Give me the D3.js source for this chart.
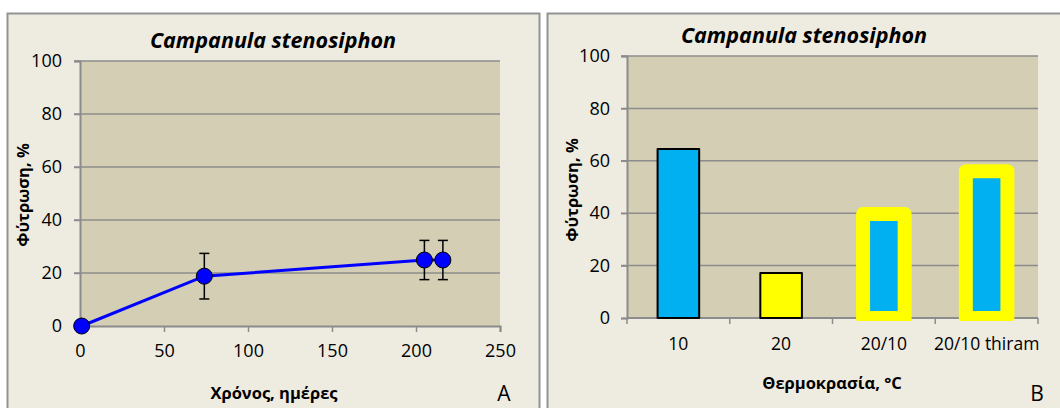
<!DOCTYPE html>
<html>
<head>
<meta charset="utf-8">
<script src="https://cdn.jsdelivr.net/npm/d3@7"></script>
<style>
  body { margin: 0; background: #ffffff; }
  svg { display: block; }
  text { font-family: "Open Sans", "Noto Sans", sans-serif; fill: #000; }
</style>
</head>
<body>
<script>
// data - panel A (time course)
var days = [1, 74, 205, 216];
var germ = [0, 18.8, 24.9, 24.9];
var errA = [0, 8.6, 7.4, 7.4];
var xTicksA = [0, 50, 100, 150, 200, 250];
var yTicks = [0, 20, 40, 60, 80, 100];

// data - panel B (temperature)
var temps = ['10', '20', '20/10', '20/10 thiram'];
var germB = [64.5, 17.2, 39.7, 56];
var fillB = ['#00B0F0', '#FFFF00', '#00B0F0', '#00B0F0'];
var edgeB = ['#000000', '#000000', '#FFFF00', '#FFFF00'];

var title = 'Campanula stenosiphon';
var yTitle = 'Φύτρωση, %';

var svg = d3.select('body').append('svg')
    .attr('width', 1060)
    .attr('height', 408);

// panel frames
svg.append('rect').attr('x', 7.5).attr('y', 13.5).attr('width', 532).attr('height', 400)
    .attr('fill', '#EEEBE0').attr('stroke', '#939393').attr('stroke-width', 2);
svg.append('rect').attr('x', 547.5).attr('y', 13.5).attr('width', 520).attr('height', 400)
    .attr('fill', '#EEEBE0').attr('stroke', '#939393').attr('stroke-width', 2);

var gridCol = '#8C8C8C';

//---------- panel A ----------
var xA = d3.scaleLinear().domain([0, 250]).range([80, 500]);
var yA = d3.scaleLinear().domain([0, 100]).range([326, 61]);

var gA = svg.append('g');
gA.append('rect').attr('x', xA(0)).attr('y', yA(100))
    .attr('width', xA(250) - xA(0)).attr('height', yA(0) - yA(100))
    .attr('fill', '#D4CEB5');

gA.selectAll('line.grid').data(yTicks.slice(1)).enter().append('line')
    .attr('class', 'grid')
    .attr('x1', xA(0) - 6).attr('x2', xA(250))
    .attr('y1', function(d) { return yA(d); })
    .attr('y2', function(d) { return yA(d); })
    .attr('stroke', gridCol).attr('stroke-width', 1.5);

// axes
gA.append('g').attr('transform', 'translate(' + xA(0) + ',0)')
    .call(d3.axisLeft(yA).tickValues(yTicks).tickSize(6).tickPadding(12))
    .call(styleAxis);
gA.append('g').attr('transform', 'translate(0,' + yA(0) + ')')
    .call(d3.axisBottom(xA).tickValues(xTicksA).tickSize(6).tickPadding(12))
    .call(styleAxis);

// line
gA.append('path').datum(days)
    .attr('d', d3.line()
        .x(function(d) { return xA(d); })
        .y(function(d, i) { return yA(germ[i]); }))
    .attr('fill', 'none').attr('stroke', '#0000FF').attr('stroke-width', 3);

// error bars
var eb = gA.selectAll('g.err').data(days).enter().append('g').attr('class', 'err')
    .filter(function(d, i) { return errA[i] > 0; });
eb.append('line')
    .attr('x1', function(d) { return xA(d); }).attr('x2', function(d) { return xA(d); })
    .attr('y1', function(d) { var k = days.indexOf(d); return yA(germ[k] + errA[k]); })
    .attr('y2', function(d) { var k = days.indexOf(d); return yA(germ[k] - errA[k]); })
    .attr('stroke', '#000').attr('stroke-width', 1.5);
[1, -1].forEach(function(s) {
    eb.append('line')
        .attr('x1', function(d) { return xA(d) - 5; }).attr('x2', function(d) { return xA(d) + 5; })
        .attr('y1', function(d) { var k = days.indexOf(d); return yA(germ[k] + s * errA[k]); })
        .attr('y2', function(d) { var k = days.indexOf(d); return yA(germ[k] + s * errA[k]); })
        .attr('stroke', '#000').attr('stroke-width', 1.5);
});

// markers
gA.selectAll('circle').data(days).enter().append('circle')
    .attr('cx', function(d) { return xA(d); })
    .attr('cy', function(d, i) { return yA(germ[i]); })
    .attr('r', 8)
    .attr('fill', '#0000FF').attr('stroke', '#000').attr('stroke-width', 1);

gA.append('text').attr('x', 273).attr('y', 48).attr('text-anchor', 'middle')
    .style('font-size', '21.5px').style('font-weight', 'bold').style('font-style', 'italic')
    .text(title);
gA.append('text').attr('transform', 'translate(29,195) rotate(-90)').attr('text-anchor', 'middle')
    .style('font-size', '16.5px').style('font-weight', 'bold').text(yTitle);
gA.append('text').attr('x', 274).attr('y', 399).attr('text-anchor', 'middle')
    .style('font-size', '16.5px').style('font-weight', 'bold').text('Χρόνος, ημέρες');
gA.append('text').attr('x', 504).attr('y', 401).attr('text-anchor', 'middle')
    .style('font-size', '21px').text('A');

//---------- panel B ----------
var xB = d3.scaleBand().domain(temps).range([627, 1038]).paddingInner(0).paddingOuter(0);
var yB = d3.scaleLinear().domain([0, 100]).range([318, 56]);

var gB = svg.append('g');
gB.append('rect').attr('x', 627).attr('y', yB(100))
    .attr('width', 1038 - 627).attr('height', yB(0) - yB(100))
    .attr('fill', '#D4CEB5');

gB.selectAll('line.grid').data(yTicks.slice(1)).enter().append('line')
    .attr('class', 'grid')
    .attr('x1', 627 - 6).attr('x2', 1038)
    .attr('y1', function(d) { return yB(d); })
    .attr('y2', function(d) { return yB(d); })
    .attr('stroke', gridCol).attr('stroke-width', 1.5);

gB.append('g').attr('transform', 'translate(627,0)')
    .call(d3.axisLeft(yB).tickValues(yTicks).tickSize(6).tickPadding(11))
    .call(styleAxis);

// category axis: ticks on band edges
var xAxisB = gB.append('g').attr('transform', 'translate(0,' + yB(0) + ')');
xAxisB.append('line').attr('x1', 627).attr('x2', 1038).attr('stroke', gridCol).attr('stroke-width', 2);
var edges = temps.map(function(t) { return xB(t); }).concat([1038]);
xAxisB.selectAll('line.tk').data(edges).enter().append('line').attr('class', 'tk')
    .attr('x1', function(d) { return d; }).attr('x2', function(d) { return d; })
    .attr('y1', 0).attr('y2', 6).attr('stroke', gridCol).attr('stroke-width', 1.5);
xAxisB.selectAll('text').data(temps).enter().append('text')
    .attr('x', function(d) { return xB(d) + xB.bandwidth() / 2; })
    .attr('y', 31.5).attr('text-anchor', 'middle').style('font-size', '17.5px')
    .text(function(d) { return d; });

gB.append('clipPath').attr('id', 'clipB').append('rect')
    .attr('x', 600).attr('y', 40).attr('width', 450).attr('height', 321 - 40);

var bw = 41.6;
gB.append('g').attr('clip-path', 'url(#clipB)')
    .selectAll('rect').data(temps).enter().append('rect')
    .attr('x', function(d) { return xB(d) + xB.bandwidth() / 2 - bw / 2; })
    .attr('y', function(d, i) { return yB(germB[i]); })
    .attr('width', bw)
    .attr('height', function(d, i) { return yB(0) - yB(germB[i]); })
    .attr('fill', function(d, i) { return fillB[i]; })
    .attr('stroke', function(d, i) { return edgeB[i]; })
    .attr('stroke-width', function(d, i) { return edgeB[i] === '#FFFF00' ? 14 : 2; })
    .attr('stroke-linejoin', 'round');

gB.append('text').attr('x', 804).attr('y', 42.5).attr('text-anchor', 'middle')
    .style('font-size', '21.5px').style('font-weight', 'bold').style('font-style', 'italic')
    .text(title);
gB.append('text').attr('transform', 'translate(578,190) rotate(-90)').attr('text-anchor', 'middle')
    .style('font-size', '16.5px').style('font-weight', 'bold').text(yTitle);
gB.append('text').attr('x', 832).attr('y', 389).attr('text-anchor', 'middle')
    .style('font-size', '16.5px').style('font-weight', 'bold').text('Θερμοκρασία, °C');
gB.append('text').attr('x', 1037).attr('y', 401).attr('text-anchor', 'middle')
    .style('font-size', '21px').text('B');

function styleAxis(g) {
    g.select('.domain').attr('stroke', gridCol).attr('stroke-width', 2);
    g.selectAll('.tick line').attr('stroke', gridCol).attr('stroke-width', 1.5);
    g.selectAll('.tick text').style('font-size', '18px').attr('fill', '#000')
        .style('font-family', '"Open Sans", "Noto Sans", sans-serif');
}
</script>
</body>
</html>
